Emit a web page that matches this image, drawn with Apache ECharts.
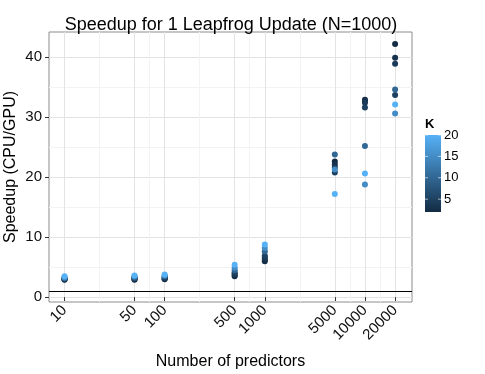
<!DOCTYPE html>
<html>
<head>
<meta charset="utf-8">
<script src="https://cdn.jsdelivr.net/npm/echarts@6/dist/echarts.min.js"></script>
<style>
  html, body { margin: 0; padding: 0; background: #fff; }
  #chart { width: 485px; height: 374px; }
</style>
</head>
<body>
<div id="chart"></div>
<script>
// number of predictors (x, log scale)
const predictors = [10, 50, 100, 500, 1000, 5000, 10000, 20000];
const minorBreaks = [22.4, 70.7, 223.6, 707.1, 2236, 7071, 14142];
const yBreaks = [0, 10, 20, 30, 40];
const yMinor = [5, 15, 25, 35];
const kLegendTicks = [5, 10, 15, 20];

// speedup per K, one value per predictor count
const speedupK2 = [2.9, 2.9, 3.0, 3.5, 6.0, 22.6, 32.9, 42.2];
const speedupK3 = [3.0, 3.0, 3.1, 3.7, 6.3, 22.1, 32.7, 39.9];
const speedupK4 = [3.0, 3.1, 3.2, 3.9, 6.6, 21.6, 32.4, 38.9];
const speedupK5 = [3.1, 3.2, 3.3, 4.1, 6.9, 20.8, 31.6, 33.7];
const speedupK10 = [3.2, 3.3, 3.5, 4.5, 7.6, 23.8, 25.2, 34.6];
const speedupK15 = [3.3, 3.5, 3.6, 4.9, 8.2, 21.3, 18.8, 30.6];
const speedupK20 = [3.5, 3.6, 3.8, 5.4, 8.8, 17.2, 20.6, 32.1];

const kValues = [2, 3, 4, 5, 10, 15, 20];
const speedups = [speedupK2, speedupK3, speedupK4, speedupK5, speedupK10, speedupK15, speedupK20];

const lg = v => Math.log10(v);
let points = [];
kValues.forEach((k, i) => {
  speedups[i].forEach((s, j) => {
    points.push([lg(predictors[j]), s, k]);
  });
});

const kMin = 2, kMax = 20;
const barX = 425, barY = 135, barW = 16, barH = 77;
const font = "'Liberation Sans', Arial, sans-serif";

let legendGraphics = [
  {
    type: "text", left: barX, top: barY - 17,
    style: { text: "K", font: "bold 13px " + font, fill: "#000" }
  },
  {
    type: "rect",
    shape: { x: barX, y: barY, width: barW, height: barH },
    style: {
      fill: new echarts.graphic.LinearGradient(0, 0, 0, 1, [
        { offset: 0, color: "#56B1F7" },
        { offset: 1, color: "#132B43" }
      ])
    }
  }
];
kLegendTicks.forEach(k => {
  const y = barY + barH - (k - kMin) / (kMax - kMin) * barH;
  legendGraphics.push({
    type: "text", x: barX + barW + 3, y: y,
    style: { text: String(k), font: "13px " + font, fill: "#000", verticalAlign: "middle" }
  });
  legendGraphics.push({
    type: "line", shape: { x1: barX, y1: y, x2: barX + 3, y2: y },
    style: { stroke: "rgba(255,255,255,0.6)", lineWidth: 1 }
  });
  legendGraphics.push({
    type: "line", shape: { x1: barX + barW - 3, y1: y, x2: barX + barW, y2: y },
    style: { stroke: "rgba(255,255,255,0.6)", lineWidth: 1 }
  });
});

const chart = echarts.init(document.getElementById("chart"));
chart.setOption({
  animation: false,
  title: {
    text: "Speedup for 1 Leapfrog Update (N=1000)",
    left: 226, top: 11, textAlign: "center",
    textStyle: { fontFamily: font, fontSize: 18, fontWeight: "normal", color: "#000" }
  },
  grid: {
    left: 49, right: 73, top: 32, bottom: 72,
    outerBoundsMode: "none", containLabel: false,
    show: true, borderColor: "#8c8c8c", borderWidth: 1, backgroundColor: "#fff"
  },
  graphic: legendGraphics,
  visualMap: {
    show: false, type: "continuous", dimension: 2,
    min: kMin, max: kMax,
    inRange: { color: ["#132B43", "#56B1F7"] }
  },
  xAxis: [
    {
      type: "value", min: lg(7), max: lg(29500),
      name: "Number of predictors", nameLocation: "middle", nameGap: 52,
      nameMoveOverlap: false,
      nameTextStyle: { fontFamily: font, fontSize: 16, color: "#000" },
      axisLine: { show: false },
      axisTick: { show: true, customValues: predictors.map(lg), length: 4, lineStyle: { color: "#333" } },
      axisLabel: {
        customValues: predictors.map(lg), rotate: 45, margin: 6,
        fontFamily: font, fontSize: 15, color: "#111",
        formatter: v => String(Math.round(Math.pow(10, v)))
      },
      splitLine: { show: true, lineStyle: { color: "#e3e3e3", width: 1 } }
    },
    {
      type: "value", min: lg(7), max: lg(29500), position: "bottom",
      axisLine: { show: false }, axisLabel: { show: false },
      axisTick: { show: false, customValues: minorBreaks.map(lg) },
      splitLine: { show: true, lineStyle: { color: "#f3f3f3", width: 1 } }
    }
  ],
  yAxis: [
    {
      type: "value", min: -0.8, max: 44.2,
      name: "Speedup (CPU/GPU)", nameLocation: "middle", nameGap: 30,
      nameMoveOverlap: false,
      nameTextStyle: { fontFamily: font, fontSize: 16, color: "#000" },
      axisLine: { show: false },
      axisTick: { show: true, customValues: yBreaks, length: 4, lineStyle: { color: "#333" } },
      axisLabel: { customValues: yBreaks, fontFamily: font, fontSize: 15, color: "#111", margin: 7 },
      splitLine: { show: true, lineStyle: { color: "#e3e3e3", width: 1 } }
    },
    {
      type: "value", min: -0.8, max: 44.2, position: "left",
      axisLine: { show: false }, axisLabel: { show: false },
      axisTick: { show: false, customValues: yMinor },
      splitLine: { show: true, lineStyle: { color: "#f3f3f3", width: 1 } }
    }
  ],
  series: [
    {
      type: "scatter",
      symbolSize: 6,
      itemStyle: { opacity: 1 },
      data: points,
      markLine: {
        silent: true, symbol: "none", label: { show: false },
        lineStyle: { color: "#000", type: "solid", width: 1.2 },
        data: [{ yAxis: 1 }]
      }
    }
  ]
});
</script>
</body>
</html>
